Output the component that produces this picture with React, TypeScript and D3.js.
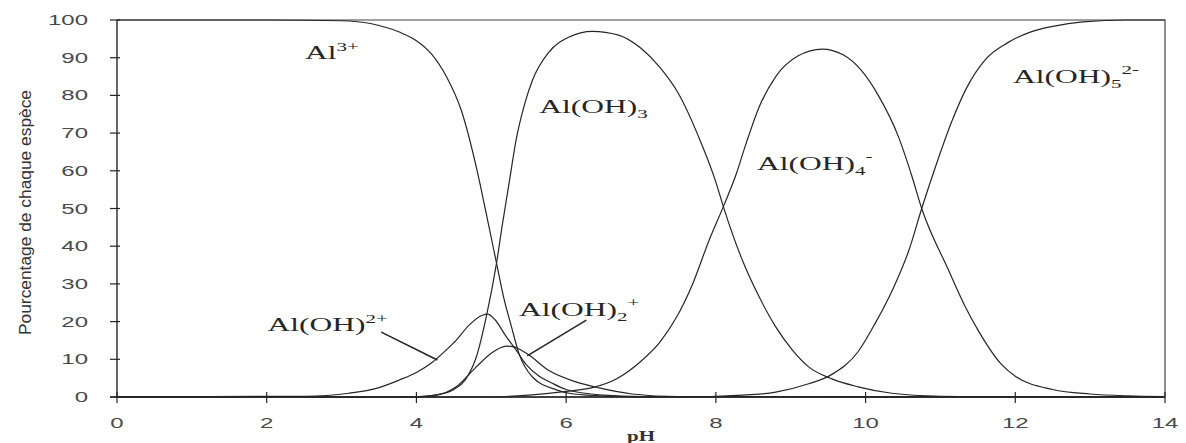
import { useEffect, useRef } from 'react';
import * as d3 from 'd3';

// [pH, % of species]
const al3 = [[0, 100], [2, 100], [3, 99.8], [3.4, 99], [3.77, 96.8], [4.0, 94.5], [4.2, 91], [4.4, 85], [4.6, 76], [4.8, 61], [4.95, 47], [5.07, 35.5], [5.17, 26], [5.27, 18.6], [5.37, 11.5], [5.55, 5.3], [5.87, 1.9], [6.1, 0.8], [6.6, 0.2], [7, 0], [14, 0]];
const alOH = [[0, 0], [2.5, 0.2], [3.1, 1], [3.5, 2.5], [3.77, 4.5], [4.0, 6.5], [4.2, 9], [4.4, 12.5], [4.53, 15], [4.7, 19], [4.88, 21.7], [4.95, 22], [5.05, 20.5], [5.2, 16], [5.33, 12.5], [5.47, 8.5], [5.64, 5.5], [5.8, 3.8], [6.0, 2], [6.5, 0.5], [7, 0.1], [14, 0]];
const alOH2 = [[0, 0], [3.8, 0], [4.27, 0.5], [4.53, 2.7], [4.8, 8], [5.0, 11.6], [5.2, 13.5], [5.3, 13.3], [5.47, 11.6], [5.77, 7], [6.13, 4], [6.44, 2.4], [6.88, 0.8], [7.5, 0.1], [14, 0]];
const alOH3 = [[0, 0], [4.0, 0], [4.3, 0.7], [4.5, 2], [4.65, 4.5], [4.8, 10.6], [4.93, 21], [5.07, 35.5], [5.15, 46], [5.24, 57], [5.33, 68], [5.45, 78], [5.55, 84], [5.77, 91.5], [6.04, 95.5], [6.35, 97], [6.7, 96], [7.0, 92.5], [7.25, 87.5], [7.5, 80.5], [7.77, 69], [8.0, 57], [8.1, 50.5], [8.36, 36], [8.58, 26.5], [8.8, 18.6], [9.02, 12.5], [9.24, 8], [9.55, 4.8], [9.9, 2.7], [10.35, 1], [11, 0.2], [12, 0], [14, 0]];
const alOH4 = [[0, 0], [5.0, 0], [5.5, 0.5], [6.0, 1.5], [6.35, 2.5], [6.67, 4.8], [7.0, 9.5], [7.25, 14.5], [7.47, 21], [7.69, 30], [7.91, 41.6], [8.1, 50.5], [8.27, 59], [8.4, 67], [8.58, 77], [8.8, 85], [9.1, 90.5], [9.42, 92.3], [9.7, 90.8], [9.95, 86.5], [10.17, 80], [10.44, 69], [10.62, 58.5], [10.75, 50], [11.1, 34], [11.33, 24], [11.5, 17.8], [11.8, 9], [12, 5.5], [12.5, 2], [13, 0.8], [13.5, 0.3], [14, 0.1]];
const alOH5 = [[0, 0], [7.5, 0], [8.36, 0.5], [8.8, 1.3], [9.24, 3.5], [9.55, 6], [9.9, 12], [10.13, 19.6], [10.35, 28], [10.58, 39], [10.75, 50], [10.95, 62], [11.15, 73], [11.35, 82], [11.6, 89.5], [11.9, 94], [12.2, 96.8], [12.5, 98.3], [12.9, 99.5], [13.5, 100], [14, 100]];

const species = [al3, alOH, alOH2, alOH3, alOH4, alOH5];

const xTicks = [0, 2, 4, 6, 8, 10, 12, 14];
const yTicks = [0, 10, 20, 30, 40, 50, 60, 70, 80, 90, 100];

// label anchors in data units (pH, %)
const labels = [
  { pH: 2.51, pct: 89.7, main: 'Al', sub: '', sup: '3+' },
  { pH: 5.64, pct: 75.3, main: 'Al(OH)', sub: '3', sup: '' },
  { pH: 8.55, pct: 60.2, main: 'Al(OH)', sub: '4', sup: '-' },
  { pH: 11.97, pct: 83.3, main: 'Al(OH)', sub: '5', sup: '2-' },
  { pH: 2.01, pct: 17.5, main: 'Al(OH)', sub: '', sup: '2+' },
  { pH: 5.37, pct: 21.5, main: 'Al(OH)', sub: '2', sup: '+' },
];

const leaders = [
  [[3.53, 17.2], [4.28, 9.8]],
  [[6.27, 20.4], [5.48, 10.9]],
];

export default function App() {
  const svgRef = useRef(null);

  useEffect(() => {
    document.body.style.margin = '0';
    const svg = d3.select(svgRef.current);
    svg.selectAll('*').remove();

    const W = 1186, H = 443;
    const margin = { top: 20, right: 21, bottom: 46, left: 117 };
    const ink = '#262626';
    const sans = '"Liberation Sans", Arial, sans-serif';
    const serif = '"Liberation Serif", "Times New Roman", serif';

    const x = d3.scaleLinear().domain([0, 14]).range([margin.left, W - margin.right]);
    const y = d3.scaleLinear().domain([0, 100]).range([H - margin.bottom, margin.top]);

    svg.append('rect').attr('width', W).attr('height', H).attr('fill', '#fff');

    // frame (top + right)
    svg.append('path')
      .attr('d', `M${x(0)},${y(100)}H${x(14)}V${y(0)}`)
      .attr('fill', 'none')
      .attr('stroke', '#444')
      .attr('stroke-width', 1.2);

    // left axis
    svg.append('line')
      .attr('x1', x(0)).attr('x2', x(0))
      .attr('y1', y(0)).attr('y2', y(100))
      .attr('stroke', ink).attr('stroke-width', 1.4);

    yTicks.forEach(t => {
      svg.append('line')
        .attr('x1', x(0) - 7).attr('x2', x(0) + 3)
        .attr('y1', y(t)).attr('y2', y(t))
        .attr('stroke', ink).attr('stroke-width', 1.2);
      svg.append('text')
        .attr('transform', `translate(${x(0) - 29},${y(t) + 5}) scale(1.6,1)`)
        .attr('text-anchor', 'end')
        .attr('font-family', sans)
        .attr('font-size', 15)
        .attr('fill', '#4a4a4a')
        .text(t);
    });

    // bottom axis
    svg.append('line')
      .attr('x1', x(0) - 7).attr('x2', x(14))
      .attr('y1', y(0)).attr('y2', y(0))
      .attr('stroke', ink).attr('stroke-width', 1.4);

    xTicks.forEach(t => {
      svg.append('line')
        .attr('x1', x(t)).attr('x2', x(t))
        .attr('y1', y(0) - 5).attr('y2', y(0) + 6)
        .attr('stroke', ink).attr('stroke-width', 1.2);
      svg.append('text')
        .attr('transform', `translate(${x(t)},${y(0) + 31}) scale(1.6,1)`)
        .attr('text-anchor', 'middle')
        .attr('font-family', sans)
        .attr('font-size', 15)
        .attr('fill', '#4a4a4a')
        .text(t);
    });

    // axis titles
    svg.append('text')
      .attr('transform', `translate(31,${(y(0) + y(100)) / 2 + 4}) rotate(-90)`)
      .attr('text-anchor', 'middle')
      .attr('font-family', sans)
      .attr('font-size', 16)
      .attr('textLength', 245)
      .attr('lengthAdjust', 'spacingAndGlyphs')
      .attr('fill', '#333')
      .text('Pourcentage de chaque espèce');

    svg.append('text')
      .attr('transform', `translate(${(x(0) + x(14)) / 2},${H - 2}) scale(1.5,1)`)
      .attr('text-anchor', 'middle')
      .attr('font-family', serif)
      .attr('font-weight', 'bold')
      .attr('font-size', 14)
      .attr('fill', '#333')
      .text('pH');

    // species curves
    const line = d3.line()
      .x(d => x(d[0]))
      .y(d => y(d[1]))
      .curve(d3.curveMonotoneX);

    species.forEach(s => {
      svg.append('path')
        .datum(s)
        .attr('fill', 'none')
        .attr('stroke', ink)
        .attr('stroke-width', 1.2)
        .attr('d', line);
    });

    // leader lines
    leaders.forEach(l => {
      svg.append('line')
        .attr('x1', x(l[0][0])).attr('y1', y(l[0][1]))
        .attr('x2', x(l[1][0])).attr('y2', y(l[1][1]))
        .attr('stroke', ink).attr('stroke-width', 1.6);
    });

    // species labels
    labels.forEach(d => {
      const t = svg.append('text')
        .attr('transform', `translate(${x(d.pH)},${y(d.pct)}) scale(1.75,1)`)
        .attr('font-family', serif)
        .attr('font-size', 18)
        .attr('fill', ink);
      t.append('tspan').text(d.main);
      if (d.sub) t.append('tspan').attr('font-size', 12).attr('dy', 5).text(d.sub);
      if (d.sup) t.append('tspan').attr('font-size', 12).attr('dy', d.sub ? -14 : -8).text(d.sup);
    });
  }, []);

  return <svg ref={svgRef} width={1186} height={443} style={{ display: 'block' }} />;
}
